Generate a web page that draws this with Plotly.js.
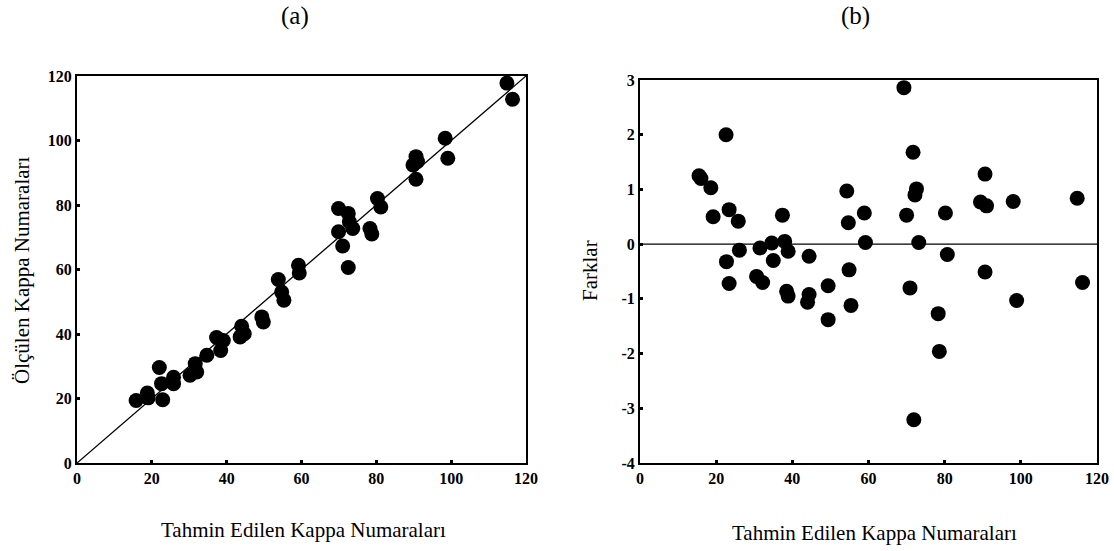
<!DOCTYPE html>
<html>
<head>
<meta charset="utf-8">
<script src="https://cdn.plot.ly/plotly-3.0.1.min.js"></script>
<style>
  html, body { margin: 0; padding: 0; background: #fff; }
  #chart { width: 1114px; height: 551px; }
</style>
</head>
<body>
<div id="chart"></div>
<script>
// (a) predicted vs measured kappa numbers
const predA = [15.8, 18.8, 19.0, 22.9, 22.0, 22.6, 25.8, 25.8, 30.2, 31.6, 32.0, 34.7,
  37.3, 39.1, 38.4, 44.0, 43.6, 44.7, 49.4, 49.8, 53.8, 54.7, 55.3, 59.2, 59.4, 72.5,
  69.9, 72.5, 69.9, 73.7, 71.0, 72.8, 78.3, 78.8, 80.3, 81.2, 90.6, 89.8, 91.0, 90.6,
  98.4, 99.1, 114.9, 116.4];
const measA = [19.4, 21.7, 20.2, 19.6, 29.6, 24.6, 26.6, 24.6, 27.2, 30.8, 28.2, 33.4,
  38.9, 38.0, 34.9, 42.4, 39.1, 40.1, 45.3, 43.7, 56.9, 53.0, 50.5, 61.3, 58.9, 60.6,
  78.9, 77.4, 71.7, 72.7, 67.3, 74.8, 72.7, 71.0, 82.0, 79.4, 95.0, 92.4, 93.5, 88.0,
  100.7, 94.5, 117.8, 112.8];

// (b) differences against predicted kappa numbers
const predB = [69.3, 22.6, 71.7, 15.5, 16.0, 18.6, 90.6, 54.3, 72.6, 72.2, 114.8, 98.0,
  89.4, 91.0, 19.2, 23.4, 25.8, 37.4, 54.7, 58.9, 70.0, 80.2, 59.2, 73.2, 26.1, 31.5,
  34.6, 38.0, 38.9, 35.0, 22.7, 44.4, 80.7, 54.9, 90.6, 23.4, 30.6, 32.2, 38.5, 38.9,
  44.4, 44.0, 49.4, 49.4, 55.4, 70.9, 78.3, 78.6, 71.9, 98.9, 116.2];
const diffB = [2.86, 2.0, 1.68, 1.25, 1.20, 1.03, 1.28, 0.97, 1.01, 0.90, 0.84, 0.78,
  0.77, 0.70, 0.50, 0.63, 0.42, 0.53, 0.39, 0.57, 0.53, 0.57, 0.03, 0.03, -0.11, -0.07,
  0.02, 0.05, -0.13, -0.30, -0.32, -0.22, -0.19, -0.47, -0.51, -0.72, -0.59, -0.70,
  -0.86, -0.95, -0.92, -1.06, -0.76, -1.38, -1.12, -0.80, -1.27, -1.96, -3.21, -1.03,
  -0.70];

const xTicks = [0, 20, 40, 60, 80, 100, 120];
const yTicksA = [0, 20, 40, 60, 80, 100, 120];
const yTicksB = [-4, -3, -2, -1, 0, 1, 2, 3];
const lineRef = [0, 120];

const serif = '"Liberation Serif", "Times New Roman", Times, serif';
const dot = { color: '#000', size: 15, line: { width: 0 } };

const traces = [
  { x: lineRef, y: lineRef, xaxis: 'x', yaxis: 'y', mode: 'lines',
    line: { color: '#000', width: 1.3 }, hoverinfo: 'skip' },
  { x: predA, y: measA, xaxis: 'x', yaxis: 'y', mode: 'markers', marker: dot },
  { x: lineRef, y: [0, 0], xaxis: 'x2', yaxis: 'y2', mode: 'lines',
    line: { color: '#000', width: 1.3 }, hoverinfo: 'skip' },
  { x: predB, y: diffB, xaxis: 'x2', yaxis: 'y2', mode: 'markers', marker: dot }
];

function axis(domain, range, ticks, anchor) {
  return {
    domain: domain, range: range, anchor: anchor,
    tickmode: 'array', tickvals: ticks, ticktext: ticks.map(String),
    showgrid: false, zeroline: false,
    showline: true, linecolor: '#000', linewidth: 2, mirror: true,
    ticks: 'inside', ticklen: 3, tickwidth: 3, tickcolor: '#000',
    tickfont: { family: serif, size: 16, color: '#000', weight: 'bold' }
  };
}

const layout = {
  width: 1114, height: 551,
  margin: { l: 0, r: 0, t: 0, b: 0 },
  paper_bgcolor: '#fff', plot_bgcolor: '#fff',
  font: { family: serif, color: '#000' },
  showlegend: false,
  xaxis: axis([77 / 1114, 526 / 1114], [0, 120], xTicks, 'y'),
  yaxis: axis([1 - 463 / 551, 1 - 76 / 551], [0, 120], yTicksA, 'x'),
  xaxis2: axis([640 / 1114, 1097 / 1114], [0, 120], xTicks, 'y2'),
  yaxis2: axis([1 - 463 / 551, 1 - 80 / 551], [-4, 3], yTicksB, 'x2'),
  annotations: [
    { text: '(a)', x: 295 / 1114, y: 1 - 16 / 551 },
    { text: '(b)', x: 855 / 1114, y: 1 - 16 / 551 },
    { text: 'Tahmin Edilen Kappa Numaraları', x: 303 / 1114, y: 1 - 530 / 551, size: 21 },
    { text: 'Tahmin Edilen Kappa Numaraları', x: 874 / 1114, y: 1 - 533 / 551, size: 21 },
    { text: 'Ölçülen Kappa Numaraları', x: 22 / 1114, y: 1 - 270 / 551, size: 21, angle: -90 },
    { text: 'Farklar', x: 590 / 1114, y: 1 - 271 / 551, size: 21, angle: -90 }
  ].map(a => ({
    text: a.text, x: a.x, y: a.y, xref: 'paper', yref: 'paper',
    xanchor: 'center', yanchor: 'middle', showarrow: false, textangle: a.angle || 0,
    font: { family: serif, size: a.size || 25, color: '#000' }
  }))
};

Plotly.newPlot('chart', traces, layout, { displayModeBar: false, staticPlot: true });
</script>
</body>
</html>
